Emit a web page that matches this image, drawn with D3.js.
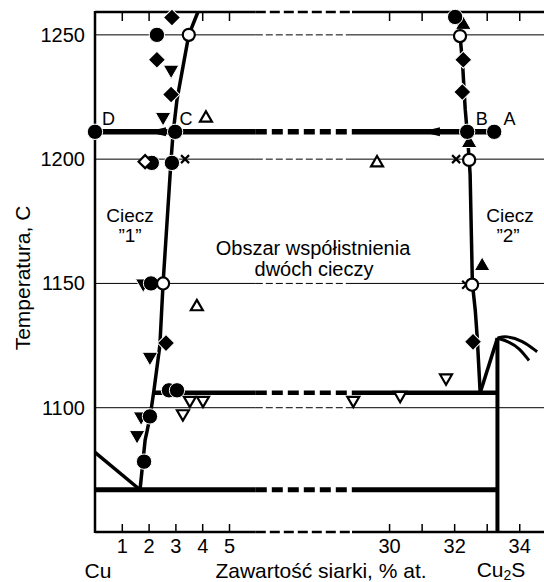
<!DOCTYPE html>
<html>
<head>
<meta charset="utf-8">
<script src="https://cdn.jsdelivr.net/npm/d3@7"></script>
<style>
body { margin: 0; background: #fff; }
text { font-family: "Liberation Sans", Arial, sans-serif; }
</style>
</head>
<body>
<div id="chart"></div>
<script>
// axis ticks
const tempTicks = [1100, 1150, 1200, 1250];
const leftTicks = [1, 2, 3, 4, 5];
const rightTicks = [30, 31, 32, 33, 34];
const rightLabels = [30, 32, 34];

// phase boundaries, [S % at., T]
const leftBoundary = [[1.68,1067],[1.87,1087],[2.05,1096],[2.2,1107],[2.42,1125],[2.54,1150],[2.84,1200],[2.91,1210],[3.06,1224],[3.28,1237],[3.5,1250],[3.84,1259.2]];
const rightBoundary = [[32.8,1106],[32.71,1128],[32.65,1139],[32.56,1150],[32.49,1194],[32.46,1200],[32.4,1211],[32.34,1220],[32.26,1238],[32.18,1250],[32.12,1259.2]];
const cuLiquidus = [[0,1082],[1.68,1067]];
const cu2sLeft = [[32.8,1106],[33.33,1128]];
const cu2sUpper = [[33.33,1128],[33.6,1129],[34.1,1127],[34.55,1122.5]];
const cu2sLower = [[33.33,1128],[33.7,1126.5],[34.0,1124],[34.3,1119]];
const cu2sS = 33.33;
const eutectic = [0, 33.33, 1067];
const monotectic = [2.2, 33.33, 1106];
const tieLine = [0, 33.23, 1211];
const arrowTips = [1.94, 30.98];

// experimental points, [S % at., T]
const filledDiamonds = [[2.87,1257],[2.31,1240],[2.84,1226],[2.65,1126],[32.28,1240],[32.25,1227],[32.58,1126.5]];
const filledTriDown = [[2.84,1236],[2.54,1217],[1.8,1150],[2.05,1120.5],[1.72,1096.5],[1.57,1089]];
const filledTriUp = [[32.28,1254],[32.46,1206.5],[32.86,1157]];
const filledCircles = [[2.31,1250],[0,1211],[2.99,1211],[2.12,1198.5],[2.87,1198.5],[2.09,1150],[2.76,1107],[3.06,1107],[2.05,1096.5],[1.83,1078.3],[32.03,1257.2],[32.4,1211],[33.23,1211]];
const crosses = [[3.36,1200],[32.06,1200],[32.37,1149.5]];
const openDiamonds = [[1.87,1199]];
const openCircles = [[3.5,1250],[2.54,1150],[32.18,1249.5],[32.46,1199.7],[32.55,1149.5]];
const openTriDown = [[3.54,1103],[4.03,1103],[3.28,1097.6],[28.9,1103],[30.34,1105],[31.75,1112]];
const openTriUp = [[4.14,1216.5],[3.8,1140.6],[29.63,1198.5]];

const pointLabels = [["D",0.5,1211],["C",3.4,1211],["B",32.85,1211],["A",33.7,1211]];

const width = 544, height = 582;
const svg = d3.select("#chart").append("svg")
  .attr("width", width).attr("height", height);

// broken x axis: two linear pieces
const xL = d3.scaleLinear().domain([0, 6]).range([95, 255.8]);
const xR = d3.scaleLinear().domain([28.75, 34.73]).range([348.4, 543]);
const x = v => v < 15 ? xL(v) : xR(v);
const y = d3.scaleLinear().domain([1050, 1259.2]).range([532, 12]);
const gapL = xL(6), gapR = 352;

// horizontal line, dashed across the break
function brokenH(yPx, x1, x2, w, dash) {
  [[x1, Math.min(x2, gapL), null], [gapL, gapR, dash], [gapR, x2, null]].forEach(p => {
    if (p[1] <= p[0]) return;
    svg.append("line")
      .attr("x1", p[0]).attr("x2", p[1])
      .attr("y1", yPx).attr("y2", yPx)
      .attr("stroke", "#000")
      .attr("stroke-width", w)
      .attr("stroke-dasharray", p[2]);
  });
}

// grid lines
tempTicks.forEach(t => brokenH(y(t), 95, width, 1, "7,3"));

// frame
brokenH(12, 95, width, 2.5, "10,4");
brokenH(532, 95, width, 2.5, "10,4");
svg.append("line").attr("x1", 95).attr("x2", 95).attr("y1", 11).attr("y2", 533)
  .attr("stroke", "#000").attr("stroke-width", 2.5);

// axes
function styleAxis(g) {
  g.select(".domain").remove();
  g.selectAll(".tick line").attr("stroke-width", 1.5);
  g.selectAll("text").attr("font-size", 20).attr("font-family", "Liberation Sans, Arial, sans-serif").attr("fill", "#000");
}
svg.append("g").attr("transform", "translate(0,532)")
  .call(d3.axisBottom(xL).tickValues(leftTicks).tickSize(-8).tickPadding(7).tickFormat(d3.format("d"))).call(styleAxis);
svg.append("g").attr("transform", "translate(0,532)")
  .call(d3.axisBottom(xR).tickValues(rightTicks).tickSize(-8).tickPadding(7)
    .tickFormat(d => rightLabels.includes(d) ? d : "")).call(styleAxis);
svg.append("g").attr("transform", "translate(0,12)")
  .call(d3.axisTop(xL).tickValues(leftTicks).tickSize(-9).tickFormat("")).call(styleAxis);
svg.append("g").attr("transform", "translate(0,12)")
  .call(d3.axisTop(xR).tickValues(rightTicks).tickSize(-9).tickFormat("")).call(styleAxis);
svg.append("g").attr("transform", "translate(95,0)")
  .call(d3.axisLeft(y).tickValues(tempTicks).tickSize(0).tickPadding(10).tickFormat(d3.format("d"))).call(styleAxis);

// phase lines
const line = d3.line().x(d => x(d[0])).y(d => y(d[1]));
const smooth = d3.line().x(d => x(d[0])).y(d => y(d[1])).curve(d3.curveBasis);
function curve(data, w, gen) {
  svg.append("path").datum(data).attr("d", gen || line)
    .attr("fill", "none").attr("stroke", "#000")
    .attr("stroke-width", w).attr("stroke-linejoin", "round");
}
curve(leftBoundary, 3.5);
curve(rightBoundary, 3.5);
curve(cuLiquidus, 3.5);
curve(cu2sLeft, 3.5);
curve(cu2sUpper, 3, smooth);
curve(cu2sLower, 3, smooth);
svg.append("line").attr("x1", x(cu2sS)).attr("x2", x(cu2sS))
  .attr("y1", y(1128)).attr("y2", 532)
  .attr("stroke", "#000").attr("stroke-width", 4);

brokenH(y(eutectic[2]), x(eutectic[0]), x(eutectic[1]), 5, "11,5");
brokenH(y(monotectic[2]), x(monotectic[0]), x(monotectic[1]), 4.5, "11,5");
brokenH(y(tieLine[2]), x(tieLine[0]), x(tieLine[1]), 5.5, "11,5");

// arrows on the tie line
svg.selectAll(".arrow").data(arrowTips).join("path")
  .attr("d", d => {
    const tx = x(d), ty = y(tieLine[2]);
    return `M${tx},${ty} L${tx + 19},${ty - 4.5} L${tx + 19},${ty + 4.5} Z`;
  })
  .attr("fill", "#000");

// markers
function markers(data, type, size, rot, filled) {
  svg.append("g").selectAll("path").data(data).join("path")
    .attr("d", d3.symbol(type, size))
    .attr("transform", d => `translate(${x(d[0])},${y(d[1])}) rotate(${rot})`)
    .attr("fill", filled ? "#000" : "#fff")
    .attr("stroke", filled ? "#fff" : "#000")
    .attr("stroke-width", filled ? 1 : 2.2);
}
markers(filledDiamonds, d3.symbolSquare, 145, 45, true);
markers(filledTriDown, d3.symbolTriangle, 105, 180, true);
markers(filledTriUp, d3.symbolTriangle, 105, 0, true);
markers(filledCircles, d3.symbolCircle, 185, 0, true);

svg.append("g").selectAll("path").data(crosses).join("path")
  .attr("d", d => {
    const cx = x(d[0]), cy = y(d[1]), r = 4;
    return `M${cx - r},${cy - r}L${cx + r},${cy + r}M${cx - r},${cy + r}L${cx + r},${cy - r}`;
  })
  .attr("stroke", "#000").attr("stroke-width", 2.2);

markers(openDiamonds, d3.symbolSquare, 85, 45, false);
markers(openCircles, d3.symbolCircle, 115, 0, false);
markers(openTriDown, d3.symbolTriangle, 62, 180, false);
markers(openTriUp, d3.symbolTriangle, 62, 0, false);

// point labels
svg.selectAll(".plabel").data(pointLabels).join("text")
  .attr("x", d => x(d[1])).attr("y", y(1211) - 7)
  .attr("text-anchor", "middle")
  .attr("font-size", 18)
  .text(d => d[0]);

// region labels
function label(txt, cx, by, size) {
  svg.append("text").attr("x", cx).attr("y", by)
    .attr("text-anchor", "middle").attr("font-size", size).text(txt);
}
label("Ciecz", 130, 222, 19);
label("\u201D1\u201D", 130, 242, 19);
label("Ciecz", 510, 222, 19);
label("\u201D2\u201D", 508, 242, 19);
label("Obszar współistnienia", 313, 255, 20);
label("dwóch cieczy", 314, 276, 20);

// axis titles
svg.append("text")
  .attr("transform", "translate(30,278) rotate(-90)")
  .attr("text-anchor", "middle").attr("font-size", 21)
  .text("Temperatura, C");
label("Zawartość siarki, % at.", 321, 578, 21);
label("Cu", 98, 578, 21);
const cu2s = svg.append("text").attr("x", 501).attr("y", 577)
  .attr("text-anchor", "middle").attr("font-size", 21);
cu2s.append("tspan").text("Cu");
cu2s.append("tspan").attr("font-size", 14).attr("dy", 3).text("2");
cu2s.append("tspan").attr("dy", -3).text("S");
</script>
</body>
</html>
